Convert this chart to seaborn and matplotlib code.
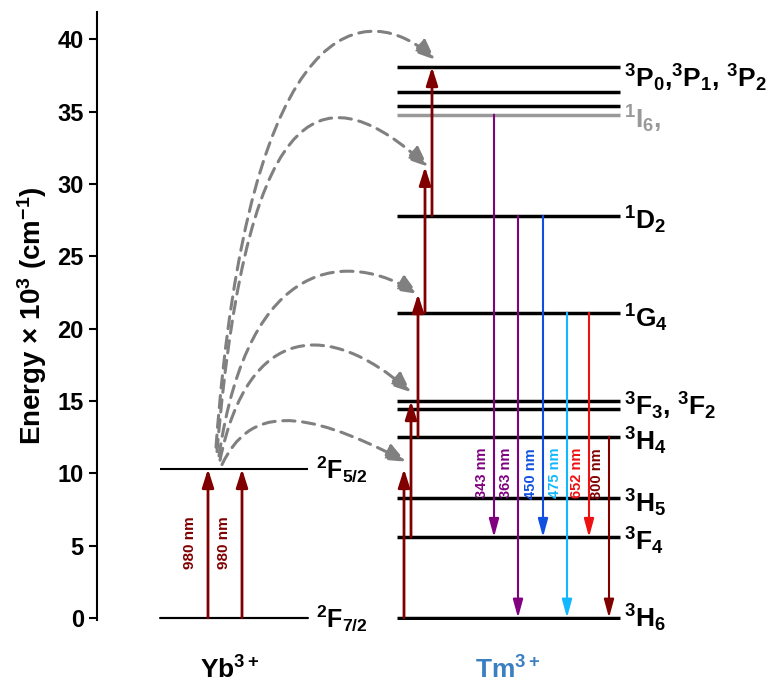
"""Yb3+/Tm3+ upconversion energy level diagram."""

import matplotlib
matplotlib.use("Agg")
import matplotlib.pyplot as plt
from matplotlib.patches import FancyArrowPatch
from matplotlib.path import Path
import seaborn as sns

# level energies (x10^3 cm^-1)
yb_levels = [0.0, 10.3]
yb_labels = [r"$^2$F$_{7/2}$", r"$^2$F$_{5/2}$"]
tm_levels = [0.0, 5.58, 8.26, 12.53, 14.46, 15.0, 21.1, 27.8, 34.8, 35.4, 36.4, 38.1]
tm_label_text = [r"$^3$H$_6$", r"$^3$F$_4$", r"$^3$H$_5$", r"$^3$H$_4$",
                 r"$^3$F$_3$, $^3$F$_2$", r"$^1$G$_4$", r"$^1$D$_2$", r"$^1$I$_6$,",
                 r"$^3$P$_0$,$^3$P$_1$, $^3$P$_2$"]
tm_label_y = [0.0, 5.3, 7.9, 12.2, 14.6, 20.7, 27.5, 34.5, 37.3]

# excitation (up) arrows: x, start, end
yb_up_x = [208, 242]
tm_up_x = [404, 411, 418, 425, 432]
tm_up_start = [0.0, 5.58, 12.53, 21.1, 27.8]
tm_up_end = [10.3, 15.0, 22.4, 31.2, 38.1]

# emissions (down arrows)
em_x = [494, 518, 543, 567, 589, 609]
em_start = [34.8, 27.8, 27.8, 21.1, 21.1, 12.53]
em_end = [5.58, 0.0, 5.58, 0.0, 5.58, 0.0]
em_names = ["343 nm", "363 nm", "450 nm", "475 nm", "652 nm", "800 nm"]
em_colors = ["#800080", "#800080", "#1050e0", "#12b8ff", "#ee1111", "#800000"]

# energy transfer dashed curves: start, end, peak x, control height
et_start = [(222, 10.6), (220, 10.9), (219, 11.2), (217, 11.5), (216, 11.8)]
et_end = [(406, 10.8), (411, 15.6), (418, 22.4), (428, 31.2), (435, 38.6)]
et_peak_x = [300, 330, 350, 330, 370]
et_ctrl_y = [14.6, 20.5, 25.3, 37.3, 42.7]

dark_red = "#800000"

sns.set_style("white")
plt.rcParams["font.family"] = ["Liberation Sans", "DejaVu Sans"]
plt.rcParams["font.weight"] = "bold"
plt.rcParams["text.color"] = "black"
plt.rcParams["ytick.color"] = "black"
plt.rcParams["axes.labelcolor"] = "black"
plt.rcParams["mathtext.fontset"] = "custom"
for k in ["rm", "bf", "it", "sf"]:
    plt.rcParams[f"mathtext.{k}"] = "Liberation Sans:bold"
plt.rcParams["mathtext.default"] = "rm"

fig = plt.figure(figsize=(7.72, 6.85), dpi=100)
ax = fig.add_axes([97 / 772, 65 / 685, 675 / 772, 608 / 685])
ax.set_xlim(97, 772)
ax.set_ylim(-0.15, 41.9)

# levels
sns.lineplot(x=[160, 308], y=[yb_levels[0]] * 2, ax=ax, color="black", lw=1.5)
ax.hlines(yb_levels, 160, 308, color="black", lw=1.5)
for e in tm_levels:
    ax.hlines(e, 397, 620, color="#999999" if e == 34.8 else "black", lw=2.5)

for e, t in zip(yb_levels, yb_labels):
    ax.text(316, e, t, fontsize=18, fontweight="bold", va="center")
for e, t in zip(tm_label_y, tm_label_text):
    ax.text(624, e, t, fontsize=19, fontweight="bold", va="center",
            color="#999999" if "I" in t else "black")

arrow_kw = dict(arrowstyle="-|>,head_width=0.35,head_length=1.1", lw=2, shrinkA=0, shrinkB=0)
for x in yb_up_x:
    ax.annotate("", xy=(x, yb_levels[1]), xytext=(x, 0),
                arrowprops=dict(color=dark_red, **arrow_kw))
    ax.text(x - 18, 5.2, "980 nm", rotation=90, color=dark_red, fontsize=11,
            fontweight="bold", ha="center", va="center")
for x, s, e in zip(tm_up_x, tm_up_start, tm_up_end):
    ax.annotate("", xy=(x, e), xytext=(x, s),
                arrowprops=dict(color=dark_red, **arrow_kw))

down_kw = dict(arrowstyle="-|>,head_width=0.3,head_length=1.1", lw=1.5, shrinkA=0, shrinkB=0)
for x, s, e, n, c in zip(em_x, em_start, em_end, em_names, em_colors):
    ax.annotate("", xy=(x, e), xytext=(x, s), arrowprops=dict(color=c, **down_kw))
    ax.text(x - 12, 10.0, n, rotation=90, color=c, fontsize=10.5,
            fontweight="bold", ha="center", va="center")

for p0, p3, px, h in zip(et_start, et_end, et_peak_x, et_ctrl_y):
    c1 = (p0[0] + 0.15 * (p3[0] - p0[0]), h)
    c2 = (px, h)
    path = Path([p0, c1, c2, p3], [Path.MOVETO, Path.CURVE4, Path.CURVE4, Path.CURVE4])
    ax.add_patch(FancyArrowPatch(path=path, arrowstyle="-|>,head_width=5,head_length=12",
                                 color="#808080", lw=2.2, ls=(0, (4, 2.5))))

ax.text(230, -3.6, r"Yb$^{3+}$", fontsize=19, fontweight="bold", ha="center",
        va="center", clip_on=False)
ax.text(508, -3.6, r"Tm$^{3+}$", fontsize=19, fontweight="bold", ha="center",
        va="center", color="#3a7fc0", clip_on=False)

ax.set_xticks([])
ax.set_yticks(range(0, 45, 5))
ax.tick_params(axis="y", labelsize=17, direction="out", length=6, width=1.5, left=True)
ax.set_ylabel(r"Energy $\times$ 10$^3$ (cm$^{-1}$)", fontsize=20, fontweight="bold",
              labelpad=6)
sns.despine(ax=ax, bottom=True)
ax.spines["left"].set_linewidth(1.5)
ax.spines["left"].set_color("black")

fig.savefig("out.png", dpi=100)
